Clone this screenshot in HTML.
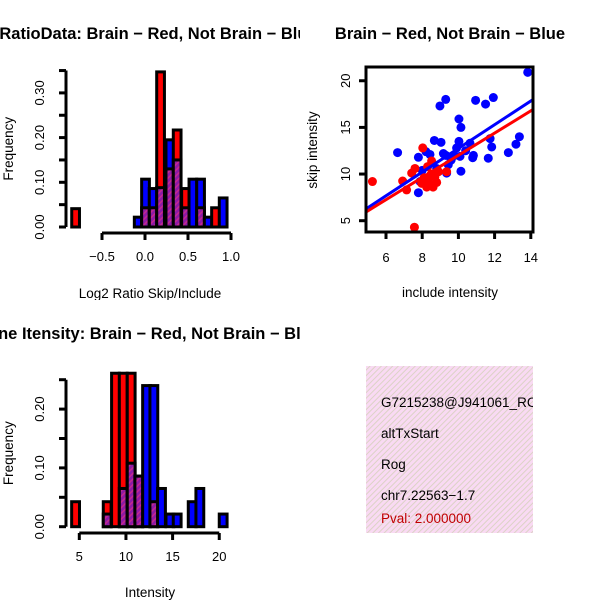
<!DOCTYPE html>
<html><head><meta charset="utf-8"><style>
html,body{margin:0;padding:0;background:#fff}
svg{display:block;font-family:"Liberation Sans",sans-serif}
</style></head><body>
<svg id="c" width="600" height="600" viewBox="0 0 600 600">
<defs>
<pattern id="hatch" width="4" height="4" patternUnits="userSpaceOnUse" patternTransform="rotate(45)">
<rect width="4" height="4" fill="#8e1aa6"/><rect width="1.5" height="4" fill="#c42890"/>
</pattern>
<pattern id="pink" width="4" height="4" patternUnits="userSpaceOnUse" patternTransform="rotate(45)">
<rect width="4" height="4" fill="#f9daf3"/><rect width="1" height="4" fill="#dcd2c6"/>
</pattern>
<clipPath id="cl1"><rect x="0" y="0" width="300" height="300"/></clipPath>
<clipPath id="cl3"><rect x="0" y="300" width="300" height="300"/></clipPath>
<clipPath id="cl2"><rect x="366" y="67" width="167" height="165"/></clipPath>
<clipPath id="cl4"><rect x="366" y="366" width="167" height="167"/></clipPath>
</defs>
<g id="p1" clip-path="url(#cl1)"></g>
<g id="p2"></g>
<g id="p3" clip-path="url(#cl3)"></g>
<g id="p4">
<rect x="366" y="366" width="167" height="167" fill="url(#pink)"/>
<g clip-path="url(#cl4)" font-size="13.5">
<text x="381" y="407">G7215238@J941061_RC</text>
<text x="381" y="438">altTxStart</text>
<text x="381" y="469">Rog</text>
<text x="381" y="500">chr7.22563−1.7</text>
<text x="381" y="523" fill="#c00000">Pval: 2.000000</text>
</g>
</g>
</svg>
<script>
// Panel 1: Log2 ratio histogram
const ratioBinStarts = [-0.852,-0.124,-0.039,0.05,0.136,0.244,0.329,0.426,0.512,0.601,0.69,0.775,0.864];
const ratioBinWidth = 0.09;
const ratioRed  = [0.041,0,0.043,0.043,0.347,0.13,0.217,0.086,0,0.043,0,0.043,0];
const ratioBlue = [0,0.022,0.107,0.086,0.088,0.195,0.15,0.043,0.107,0.107,0.022,0,0.065];
const ratioYTicks = [0,0.05,0.10,0.15,0.20,0.25,0.30,0.35];
const ratioYLabels = ["0.00","0.10","0.20","0.30"];
const ratioXTicks = [-0.5,0,0.5,1.0];
const ratioXLabels = ["−0.5","0.0","0.5","1.0"];
// Panel 2: scatter
const blueX = [13.83,6.64,9.3,8.98,10.95,11.5,11.93,10.03,10.14,13.37,13.18,12.76,8.67,9.04,9.17,9.31,7.79,8.21,8.43,10.03,9.9,9.78,10.09,10.64,10.83,10.79,11.65,11.84,11.75,10.14,9.35,8.0,7.79,7.88,9.44,8.8,9.6,10.4];
const blueY = [20.9,12.3,18.0,17.3,17.9,17.5,18.2,15.9,15.0,14.0,13.2,12.3,13.6,13.4,12.2,12.0,11.8,12.4,12.1,13.5,12.8,12.0,11.9,13.3,12.0,11.75,11.7,12.9,13.8,10.3,10.1,10.4,8.0,9.2,11.0,10.6,11.5,12.5];
const redX = [5.25,7.57,6.92,7.14,7.42,7.6,8.03,8.3,8.52,8.34,8.6,7.97,8.25,8.7,8.9,9.35,8.1,8.5,8.8];
const redY = [9.2,4.3,9.25,8.3,10.1,10.6,12.8,10.8,11.4,9.2,8.6,9.0,8.6,9.7,10.25,10.25,9.6,10.0,9.1];
const fitBlue = [0.05,1.27]; // intercept, slope
const fitRed = [0.11,1.19];
const scatXTicks = [6,8,10,12,14];
const scatYTicks = [5,10,15,20];
// Panel 3: intensity histogram
const intBinStarts = [4.18,7.57,8.46,9.29,10.14,10.96,11.79,12.57,13.39,14.29,15.07,16.68,17.5,20.0];
const intBinWidth = 0.84;
const intRed  = [0.0425,0.0425,0.261,0.261,0.261,0.086,0,0.0425,0,0,0,0,0,0];
const intBlue = [0,0.0215,0,0.065,0.108,0.086,0.24,0.24,0.065,0.0215,0.0215,0.0425,0.065,0.0215];
const intYTicks = [0,0.05,0.10,0.15,0.20,0.25];
const intYLabels = ["0.00","0.10","0.20"];
const intXTicks = [5,10,15,20];

const NS="http://www.w3.org/2000/svg";
function mk(parent,tag,attrs,text){const e=document.createElementNS(NS,tag);for(const k in attrs)e.setAttribute(k,attrs[k]);if(text!==undefined)e.textContent=text;parent.appendChild(e);return e;}

function histPanel(g,starts,width,red,blue,sx,sy,yTicks,yLabels,xTicks,xLabels,axX,axY,title,titleX,titleY,xlab,xlabY){
  for(let i=0;i<starts.length;i++){
    const r=red[i],b=blue[i],mx=Math.max(r,b),mn=Math.min(r,b);
    if(mx<=0)continue;
    const x0=sx(starts[i]),x1=sx(starts[i]+width);
    const big=mk(g,'rect',{x:x0,y:sy(mx),width:x1-x0,height:sy(0)-sy(mx),fill:r>=b?'#ff0000':'#0000ff',stroke:'#000','stroke-width':3});
    
    
    if(mn>0){
      const ov=mk(g,'rect',{x:x0,y:sy(mn),width:x1-x0,height:sy(0)-sy(mn),fill:'url(#hatch)',stroke:'#000','stroke-width':3});
      
      
    }
  }
  const ya=mk(g,'line',{x1:axX,x2:axX,y1:sy(yTicks[0]),y2:sy(yTicks[yTicks.length-1]),stroke:'#000','stroke-width':3});
  
  
  yTicks.forEach((t,i)=>{
    mk(g,'line',{x1:axX-7,x2:axX,y1:sy(t),y2:sy(t),stroke:'#000','stroke-width':3});
    if(i%2===0){const lb=mk(g,'text',{x:0,y:0,'font-size':13,'text-anchor':'middle',transform:`translate(${axX-22},${sy(t)}) rotate(-90)`},yLabels[i/2]);
      
      }
  });
  const xa=mk(g,'line',{x1:sx(xTicks[0]),x2:sx(xTicks[xTicks.length-1]),y1:axY,y2:axY,stroke:'#000','stroke-width':3});
  
  
  xTicks.forEach((t,i)=>{
    mk(g,'line',{x1:sx(t),x2:sx(t),y1:axY,y2:axY+7,stroke:'#000','stroke-width':3});
    const lb=mk(g,'text',{x:sx(t),y:axY+28,'font-size':13,'text-anchor':'middle'},xLabels[i]);
    
    
  });
  const tt=mk(g,'text',{x:titleX,y:titleY,'font-size':16.5,'font-weight':'bold','text-anchor':'middle'},title);
  
  
  const xl=mk(g,'text',{x:150,y:xlabY,'font-size':13.5,'text-anchor':'middle'},xlab);
  
  
  const yl=mk(g,'text',{x:0,y:0,'font-size':13.5,'text-anchor':'middle',transform:`translate(13,${(sy(yTicks[0])+sy(yTicks[yTicks.length-1]))/2}) rotate(-90)`},'Frequency');
  
  
}

const p1=document.getElementById('p1');
histPanel(p1,ratioBinStarts,ratioBinWidth,ratioRed,ratioBlue,
  v=>145+v*86, v=>227-v*447,
  ratioYTicks,ratioYLabels,ratioXTicks,ratioXLabels,66,233,
  'Log2 RatioData: Brain − Red, Not Brain − Blue',136,39,'Log2 Ratio Skip/Include',298);

const p3=document.getElementById('p3');
histPanel(p3,intBinStarts,intBinWidth,intRed,intBlue,
  v=>79.3+(v-5)*9.33, v=>526.7-v*588,
  intYTicks,intYLabels,intXTicks,["5","10","15","20"],66,533,
  'Gene Itensity: Brain − Red, Not Brain − Blue',148,339,'Intensity',597);

// Scatter
const p2=document.getElementById('p2');
const sx2=v=>386+(v-6)*18.1, sy2=v=>220.7-(v-5)*9.33;
const pts=mk(p2,'g',{'clip-path':'url(#cl2)'});
blueX.forEach((x,i)=>{const c=mk(pts,'circle',{cx:sx2(x),cy:sy2(blueY[i]),r:4.5,fill:'#0000ff'});
  
  });
redX.forEach((x,i)=>{const c=mk(pts,'circle',{cx:sx2(x),cy:sy2(redY[i]),r:4.5,fill:'#ff0000'});
  
  });
[[fitBlue,'#0000ff','blue-fit-line'],[fitRed,'#ff0000','red-fit-line']].forEach(([f,col,nm])=>{
  const xa=4.9,xb=14.2;
  const l=mk(pts,'line',{x1:sx2(xa),y1:sy2(f[0]+f[1]*xa),x2:sx2(xb),y2:sy2(f[0]+f[1]*xb),stroke:col,'stroke-width':3});
  
  
});
const box=mk(p2,'rect',{x:366,y:67,width:167,height:165,fill:'none',stroke:'#000','stroke-width':3});


scatXTicks.forEach(t=>{mk(p2,'line',{x1:sx2(t),x2:sx2(t),y1:232,y2:239,stroke:'#000','stroke-width':3});
  const lb=mk(p2,'text',{x:sx2(t),y:262,'font-size':13,'text-anchor':'middle'},String(t));
  
  });
scatYTicks.forEach(t=>{mk(p2,'line',{x1:359,x2:366,y1:sy2(t),y2:sy2(t),stroke:'#000','stroke-width':3});
  const lb=mk(p2,'text',{x:0,y:0,'font-size':13,'text-anchor':'middle',transform:`translate(350,${sy2(t)}) rotate(-90)`},String(t));
  
  });
const t2=mk(p2,'text',{x:450,y:39,'font-size':16.5,'font-weight':'bold','text-anchor':'middle'},'Brain − Red, Not Brain − Blue');


const xl2=mk(p2,'text',{x:450,y:297,'font-size':13.5,'text-anchor':'middle'},'include intensity');


const yl2=mk(p2,'text',{x:0,y:0,'font-size':13.5,'text-anchor':'middle',transform:'translate(317,150) rotate(-90)'},'skip intensity');


</script>
</body></html>
